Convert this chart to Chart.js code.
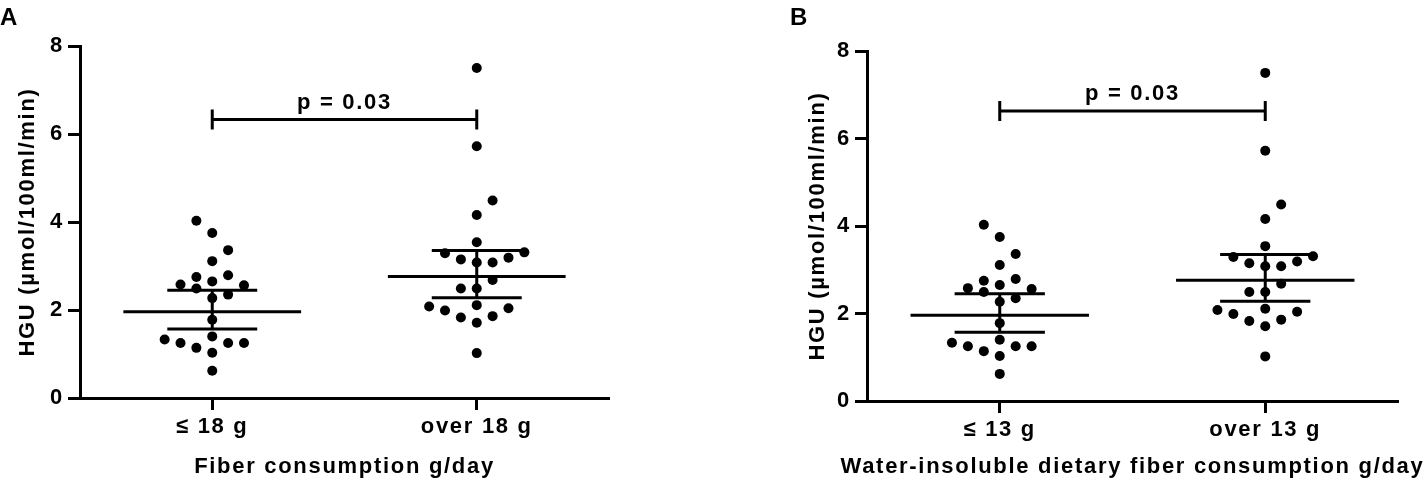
<!DOCTYPE html>
<html>
<head>
<meta charset="utf-8">
<title>HGU by fiber consumption</title>
<script src="https://cdn.jsdelivr.net/npm/chart.js"></script>
<style>
  body { margin: 0; background: #fff; }
  #wrap { position: relative; width: 1426px; height: 488px; }
  .panel { position: absolute; top: 0; }
</style>
</head>
<body>
<div id="wrap">
  <canvas id="panelA" class="panel" style="left:0" width="620" height="488"></canvas>
  <canvas id="panelB" class="panel" style="left:790px" width="636" height="488"></canvas>
</div>
<script>
// HGU (µmol/100ml/min) values, same subjects in both panels
const lowFiber = [4.03, 3.75, 3.36, 3.11, 2.75, 2.79, 2.58, 2.65, 2.56, 2.49, 2.35, 2.27, 1.78, 1.40, 1.33, 1.25, 1.14, 1.25, 1.25, 1.03, 0.62];
const lowColumn = [-1, 0, 1, 0, -1, 1, -2, 0, 2, -1, 1, 0, 0, 0, -3, -2, -1, 1, 2, 0, 0];
const highFiber = [7.50, 5.72, 4.49, 4.16, 3.54, 3.29, 3.31, 3.19, 3.15, 3.08, 3.08, 2.68, 2.49, 2.49, 2.11, 2.08, 1.99, 2.04, 1.83, 1.86, 1.71, 1.02];
const highColumn = [0, 0, 1, 0, 0, -2, 3, 2, -1, 0, 1, 1, -1, 0, 0, -3, -2, 2, -1, 1, 0, 0];

// centre line and SEM whiskers for each group
const groupMean = [1.96, 2.76];
const semLower = [1.57, 2.28];
const semUpper = [2.45, 3.35];

const labelsA = ['\u2264 18 g', 'over 18 g'];
const labelsB = ['\u2264 13 g', 'over 13 g'];
const bracketA = 6.33;
const bracketB = 6.63;
const pText = 'p = 0.03';

const FONT = '"Liberation Sans", Arial, sans-serif';
const COL = 0.06; // width of one beeswarm column in x units

function dots(values, cols, c) {
  return values.map((v, i) => ({ x: c + cols[i] * COL, y: v }));
}

function seg(points) {
  return {
    type: 'line',
    data: points.map(p => ({ x: p[0], y: p[1] })),
    borderColor: '#000',
    borderWidth: 3,
    pointRadius: 0,
    fill: false
  };
}

function groupLines(i) {
  const c = i + 1;
  return [
    seg([[c - 0.336, groupMean[i]], [c + 0.336, groupMean[i]]]),
    seg([[c - 0.17, semUpper[i]], [c + 0.17, semUpper[i]]]),
    seg([[c - 0.17, semLower[i]], [c + 0.17, semLower[i]]]),
    seg([[c, semLower[i]], [c, semUpper[i]]])
  ];
}

function decor(letter, xTitle, bracketY) {
  return {
    id: 'decor',
    beforeUpdate(chart) { chart.ctx.letterSpacing = '1.7px'; },
    beforeDraw(chart) { chart.ctx.letterSpacing = '1.7px'; },
    afterDraw(chart) {
      const { ctx, chartArea, scales: { x, y } } = chart;
      const x1 = x.getPixelForValue(1);
      const x2 = x.getPixelForValue(2);
      const yb = y.getPixelForValue(bracketY);
      ctx.save();
      ctx.strokeStyle = '#000';
      ctx.lineWidth = 3;
      ctx.beginPath();
      ctx.moveTo(x1, yb - 10); ctx.lineTo(x1, yb + 10);
      ctx.moveTo(x1, yb); ctx.lineTo(x2, yb);
      ctx.moveTo(x2, yb - 10); ctx.lineTo(x2, yb + 10);
      ctx.stroke();
      ctx.fillStyle = '#000';
      ctx.font = 'bold 22px ' + FONT;
      ctx.textAlign = 'center';
      ctx.textBaseline = 'middle';
      ctx.fillText(pText, (x1 + x2) / 2, yb - 17);
      ctx.fillText(xTitle, (chartArea.left + chartArea.right) / 2, 467);
      ctx.font = 'bold 24px ' + FONT;
      ctx.textAlign = 'left';
      ctx.textBaseline = 'top';
      ctx.fillText(letter, 0, 6);
      ctx.restore();
    }
  };
}

function makePanel(id, letter, labels, xTitle, bracketY, yWidth, xHeight, padTop, padRight) {
  const ctx = document.getElementById(id).getContext('2d');
  return new Chart(ctx, {
    type: 'scatter',
    data: {
      datasets: [
        ...groupLines(0),
        ...groupLines(1),
        { data: dots(lowFiber, lowColumn, 1), backgroundColor: '#000', borderWidth: 0, pointRadius: 5 },
        { data: dots(highFiber, highColumn, 2), backgroundColor: '#000', borderWidth: 0, pointRadius: 5 }
      ]
    },
    options: {
      responsive: false,
      animation: false,
      events: [],
      layout: { padding: { top: padTop, right: padRight, left: 0, bottom: 0 } },
      plugins: { legend: { display: false }, tooltip: { enabled: false } },
      scales: {
        x: {
          type: 'linear',
          min: 0.5,
          max: 2.5,
          afterBuildTicks: s => { s.ticks = [{ value: 1 }, { value: 2 }]; },
          afterFit: s => { s.height = xHeight; },
          ticks: {
            callback: v => labels[Math.round(v) - 1],
            autoSkip: false,
            maxRotation: 0,
            padding: 4,
            color: '#000',
            font: { family: FONT, size: 22, weight: 'bold' }
          },
          grid: { drawOnChartArea: false, tickLength: 12, tickWidth: 3, tickColor: '#000' },
          border: { display: true, width: 3, color: '#000' }
        },
        y: {
          min: 0,
          max: 8,
          afterBuildTicks: s => { s.ticks = yTicks.map(v => ({ value: v })); },
          afterFit: s => { s.width = yWidth; },
          ticks: {
            padding: 4,
            color: '#000',
            font: { family: FONT, size: 22, weight: 'bold' }
          },
          grid: { drawOnChartArea: false, tickLength: 12, tickWidth: 3, tickColor: '#000' },
          border: { display: true, width: 3, color: '#000' },
          title: {
            display: true,
            text: 'HGU (\u00b5mol/100ml/min)',
            color: '#000',
            padding: { top: 15, bottom: 0 },
            font: { family: FONT, size: 22, weight: 'bold' }
          }
        }
      }
    },
    plugins: [decor(letter, xTitle, bracketY)]
  });
}

const yTicks = [0, 2, 4, 6, 8];

makePanel('panelA', 'A', labelsA, 'Fiber consumption g/day', bracketA, 80, 90, 46, 11);
makePanel('panelB', 'B', labelsB, 'Water-insoluble dietary fiber consumption g/day', bracketB, 77, 87, 51, 28);
</script>
</body>
</html>
